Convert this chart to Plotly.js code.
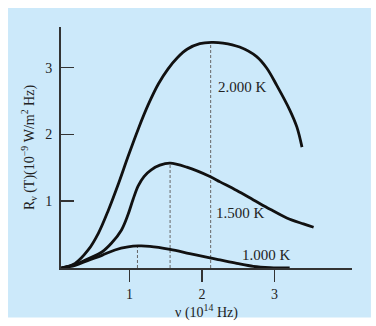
<!DOCTYPE html>
<html>
<head>
<meta charset="utf-8">
<script src="https://cdn.plot.ly/plotly-3.0.1.min.js"></script>
<style>html,body{margin:0;padding:0;background:#fff;}#chart{width:376px;height:326px;}</style>
</head>
<body>
<div id="chart"></div>
<script>
// Frequency (10^14 Hz) and spectral radiance (10^-9 W/m^2 Hz)
const x2000 = [0.06,0.25,0.43,0.57,0.71,0.85,0.98,1.12,1.26,1.40,1.53,1.66,1.80,1.97,2.13,2.29,2.52,2.75,2.89,3.03,3.21,3.31,3.38];
const y2000 = [0,0.07,0.27,0.52,0.87,1.27,1.67,2.08,2.45,2.76,2.98,3.15,3.28,3.36,3.38,3.37,3.31,3.17,3.00,2.74,2.37,2.11,1.81];
const x1500 = [0.06,0.25,0.43,0.62,0.75,0.89,0.98,1.05,1.12,1.20,1.30,1.42,1.56,1.79,2.11,2.25,2.48,2.71,2.94,3.17,3.40,3.54];
const y1500 = [0,0.055,0.14,0.24,0.37,0.57,0.80,1.03,1.23,1.37,1.47,1.54,1.57,1.51,1.37,1.29,1.16,1.02,0.88,0.75,0.66,0.61];
const x1000 = [0.06,0.25,0.43,0.62,0.80,0.98,1.12,1.28,1.56,1.83,2.11,2.25,2.48,2.71,2.94,3.21];
const y1000 = [0,0.04,0.115,0.19,0.27,0.315,0.33,0.325,0.28,0.216,0.15,0.12,0.07,0.025,0.006,0];
const peakX = [1.11,1.56,2.12];
const peakY = [0.33,1.57,3.38];
const curveLabels = ["1.000 K","1.500 K","2.000 K"];
const tickVals = [1,2,3];

const serif = "Liberation Serif, Times New Roman, serif";
const curveLine = {color:"#111", width:2.8, shape:"spline", smoothing:1};

const dx = [], dy = [];
peakX.forEach((p,i)=>{ dx.push(p,p,null); dy.push(0,peakY[i],null); });

const traces = [
  {x:dx, y:dy, mode:"lines", line:{color:"#666", width:1, dash:"3px,2px"}, hoverinfo:"skip"},
  {x:x1000, y:y1000, mode:"lines", line:curveLine},
  {x:x1500, y:y1500, mode:"lines", line:curveLine},
  {x:x2000, y:y2000, mode:"lines", line:curveLine}
];

const labelPos = [[2.52,0.20],[2.16,0.82],[2.20,2.71]];
const annotations = curveLabels.map((t,i)=>({
  x:labelPos[i][0], y:labelPos[i][1], xref:"x", yref:"y", text:t, showarrow:false,
  xanchor:"left", yanchor:"middle", font:{family:serif, size:15, color:"#222"}
}));

const layout = {
  width:376, height:326,
  margin:{l:61, r:24, t:27, b:58},
  paper_bgcolor:"#ffffff",
  plot_bgcolor:"rgba(0,0,0,0)",
  showlegend:false,
  font:{family:serif, size:14, color:"#222"},
  shapes:[{type:"rect", xref:"paper", yref:"paper", x0:-0.182, x1:1.065, y0:-0.205, y1:1.079,
           fillcolor:"#cce9fa", line:{width:0}, layer:"below"}],
  xaxis:{range:[0.055,4.07], tickvals:tickVals, ticktext:tickVals.map(String), ticks:"outside", ticklen:12, tickwidth:1.5, tickcolor:"#333",
         showline:true, linecolor:"#333", linewidth:2, showgrid:false, zeroline:false,
         tickfont:{family:serif, size:14, color:"#222"},
         title:{text:"ν (10<sup>14</sup> Hz)", font:{family:serif, size:14, color:"#222"}, standoff:4}},
  yaxis:{range:[0,3.61], tickvals:tickVals, ticktext:tickVals.map(String), ticks:"inside", ticklen:13, tickwidth:1.5, tickcolor:"#333",
         showline:true, linecolor:"#333", linewidth:2, showgrid:false, zeroline:false, ticklabelstandoff:4,
         tickfont:{family:serif, size:14, color:"#222"},
         title:{text:"R<sub>ν</sub> (T)(10<sup>−9</sup> W/m<sup>2</sup> Hz)", font:{family:serif, size:14, color:"#222"}, standoff:7}},
  annotations:annotations
};

Plotly.newPlot("chart", traces, layout, {displayModeBar:false, staticPlot:true});
</script>
</body>
</html>
